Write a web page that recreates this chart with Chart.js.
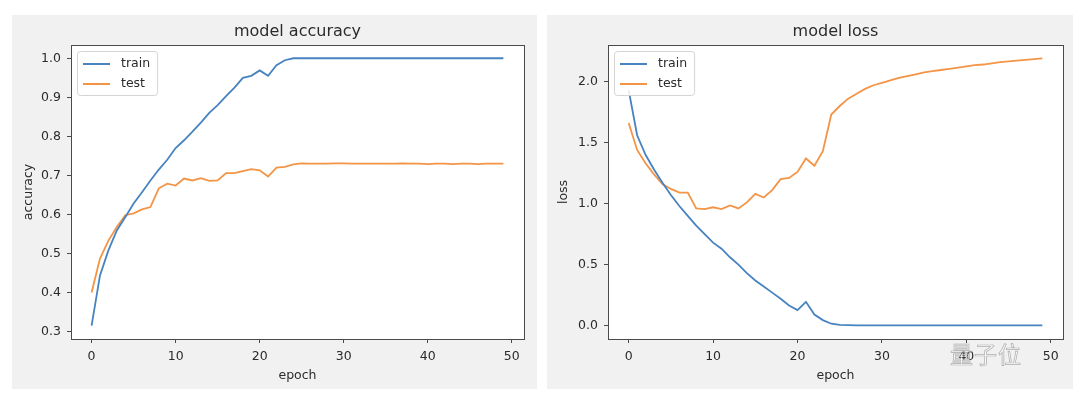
<!DOCTYPE html>
<html>
<head>
<meta charset="utf-8">
<script src="https://cdn.jsdelivr.net/npm/chart.js@4/dist/chart.umd.min.js"></script>
<style>
  body { margin: 0; background: #ffffff; width: 1080px; height: 397px; position: relative; overflow: hidden; }
  .panel { position: absolute; top: 15px; height: 374px; background: #f1f1f1; }
  #left { left: 12px; width: 525px; }
  #right { left: 547px; width: 526px; }
  .mark { position: absolute; left: 950px; top: 336px; font: 23px "Noto Sans CJK SC"; color: rgba(255,255,255,0.55);
          -webkit-text-stroke: 0.7px rgba(110,110,110,0.55); letter-spacing: 1px; }
</style>
</head>
<body>
<div class="panel" id="left"><canvas id="accChart" width="525" height="374"></canvas></div>
<div class="panel" id="right"><canvas id="lossChart" width="526" height="374"></canvas></div>
<div class="mark">量子位</div>
<script>
// values, one per epoch
var epochs = [];
for (var i = 0; i < 50; i++) epochs.push(i);

var accTrain = [0.315, 0.444, 0.508, 0.559, 0.593, 0.628, 0.657, 0.687, 0.715, 0.740,
                0.770, 0.790, 0.812, 0.835, 0.860, 0.880, 0.903, 0.925, 0.950, 0.955,
                0.969, 0.955, 0.982, 0.995, 1.000, 1.000, 1.000, 1.000, 1.000, 1.000,
                1.000, 1.000, 1.000, 1.000, 1.000, 1.000, 1.000, 1.000, 1.000, 1.000,
                1.000, 1.000, 1.000, 1.000, 1.000, 1.000, 1.000, 1.000, 1.000, 1.000];
var accTest = [0.400, 0.487, 0.533, 0.568, 0.598, 0.603, 0.613, 0.619, 0.667, 0.679,
               0.674, 0.692, 0.687, 0.693, 0.686, 0.687, 0.706, 0.706, 0.711, 0.716,
               0.713, 0.697, 0.720, 0.722, 0.728, 0.731, 0.730, 0.730, 0.730, 0.731,
               0.731, 0.730, 0.730, 0.730, 0.730, 0.730, 0.730, 0.731, 0.730, 0.730,
               0.729, 0.730, 0.730, 0.729, 0.730, 0.730, 0.729, 0.730, 0.730, 0.730];
var lossTrain = [1.93, 1.56, 1.40, 1.28, 1.17, 1.07, 0.98, 0.90, 0.82, 0.75,
                 0.68, 0.63, 0.56, 0.50, 0.43, 0.37, 0.32, 0.27, 0.22, 0.165,
                 0.127, 0.195, 0.09, 0.045, 0.015, 0.005, 0.003, 0.002, 0.002, 0.001,
                 0.001, 0.001, 0.001, 0.001, 0.001, 0.001, 0.001, 0.001, 0.001, 0.001,
                 0.001, 0.001, 0.001, 0.001, 0.001, 0.001, 0.001, 0.001, 0.001, 0.001];
var lossTest = [1.66, 1.44, 1.33, 1.24, 1.16, 1.12, 1.09, 1.09, 0.96, 0.955,
                0.97, 0.955, 0.985, 0.96, 1.01, 1.08, 1.05, 1.11, 1.20, 1.21,
                1.26, 1.37, 1.31, 1.43, 1.73, 1.80, 1.86, 1.90, 1.94, 1.97,
                1.99, 2.01, 2.03, 2.045, 2.06, 2.075, 2.085, 2.095, 2.105, 2.115,
                2.125, 2.135, 2.14, 2.15, 2.16, 2.165, 2.172, 2.178, 2.184, 2.19];

var epochTicks = [0, 10, 20, 30, 40, 50];
var accTicks = [0.3, 0.4, 0.5, 0.6, 0.7, 0.8, 0.9, 1.0];
var lossTicks = [0.0, 0.5, 1.0, 1.5, 2.0];

var blue = '#4783c0';
var orange = '#f39446';
var textCol = '#2b2b2b';
var frameCol = '#4a4a4a';
var fontFam = '"DejaVu Sans", sans-serif';

function points(vals) {
    return vals.map(function (v, i) { return { x: epochs[i], y: v }; });
}

// white axes box, frame, title over the plot and matplotlib style legend
var framePlugin = {
    id: 'frame',
    beforeDraw: function (chart) {
        var a = chart.chartArea, ctx = chart.ctx;
        ctx.save();
        ctx.fillStyle = '#ffffff';
        ctx.fillRect(a.left, a.top, a.right - a.left, a.bottom - a.top);
        ctx.restore();
    },
    afterDraw: function (chart) {
        var a = chart.chartArea, ctx = chart.ctx;
        ctx.save();
        ctx.strokeStyle = frameCol;
        ctx.lineWidth = 1;
        ctx.strokeRect(Math.round(a.left) + 0.5, Math.round(a.top) + 0.5,
                       Math.round(a.right - a.left), Math.round(a.bottom - a.top));

        ctx.fillStyle = textCol;
        ctx.font = '16px ' + fontFam;
        ctx.textAlign = 'center';
        ctx.textBaseline = 'middle';
        ctx.fillText(chart.options.plotTitle, (a.left + a.right) / 2, a.top - 13);

        ctx.font = '12.5px ' + fontFam;
        ctx.textAlign = 'left';
        var sets = chart.data.datasets;
        var w = 0;
        sets.forEach(function (d) { w = Math.max(w, ctx.measureText(d.label).width); });
        var bx = a.left + 6, by = a.top + 6, bw = 44 + w + 7, bh = 44;
        ctx.fillStyle = 'rgba(255,255,255,0.85)';
        ctx.strokeStyle = '#d4d4d4';
        ctx.beginPath();
        ctx.roundRect(bx + 0.5, by + 0.5, bw, bh, 3);
        ctx.fill();
        ctx.stroke();
        sets.forEach(function (d, k) {
            var y = by + 13 + k * 20;
            ctx.strokeStyle = d.borderColor;
            ctx.lineWidth = 2;
            ctx.beginPath();
            ctx.moveTo(bx + 6, y);
            ctx.lineTo(bx + 33, y);
            ctx.stroke();
            ctx.fillStyle = textCol;
            ctx.textBaseline = 'middle';
            ctx.fillText(d.label, bx + 44, y);
        });
        ctx.restore();
    }
};

function makeChart(id, title, yTitle, train, test, yMin, yMax, yTicks, yWidth, rightPad) {
    var ctx = document.getElementById(id).getContext('2d');
    return new Chart(ctx, {
        type: 'line',
        data: {
            datasets: [{
                label: 'train',
                data: points(train),
                borderColor: blue,
                borderWidth: 1.8,
                pointRadius: 0,
                tension: 0
            }, {
                label: 'test',
                data: points(test),
                borderColor: orange,
                borderWidth: 1.8,
                pointRadius: 0,
                tension: 0
            }]
        },
        options: {
            responsive: false,
            animation: false,
            plotTitle: title,
            layout: { padding: { left: 0, right: rightPad, top: 30, bottom: 0 } },
            plugins: {
                legend: { display: false },
                tooltip: { enabled: false },
                title: { display: false }
            },
            scales: {
                x: {
                    type: 'linear',
                    min: -2.45,
                    max: 51.45,
                    afterBuildTicks: function (s) { s.ticks = epochTicks.map(function (v) { return { value: v }; }); },
                    afterFit: function (s) { s.height = 50; },
                    ticks: { color: textCol, font: { family: fontFam, size: 12.5 }, padding: 6, maxRotation: 0 },
                    grid: { drawOnChartArea: false, drawTicks: true, tickLength: 4, color: frameCol },
                    border: { display: false },
                    title: { display: true, text: 'epoch', color: textCol, font: { family: fontFam, size: 12.5 },
                             padding: { top: 0, bottom: 6 } }
                },
                y: {
                    min: yMin,
                    max: yMax,
                    afterBuildTicks: function (s) { s.ticks = yTicks.map(function (v) { return { value: v }; }); },
                    afterFit: function (s) { s.width = yWidth; },
                    ticks: { color: textCol, font: { family: fontFam, size: 12.5 }, padding: 6,
                             callback: function (v) { return v.toFixed(1); } },
                    grid: { drawOnChartArea: false, drawTicks: true, tickLength: 4, color: frameCol },
                    border: { display: false },
                    title: { display: true, text: yTitle, color: textCol, font: { family: fontFam, size: 12.5 },
                             padding: { top: 9, bottom: 0 } }
                }
            }
        },
        plugins: [framePlugin]
    });
}

var accChart = makeChart('accChart', 'model accuracy', 'accuracy', accTrain, accTest,
                         0.281, 1.034, accTicks, 59, 13);
var lossChart = makeChart('lossChart', 'model loss', 'loss', lossTrain, lossTest,
                          -0.11, 2.30, lossTicks, 61, 10);
</script>
</body>
</html>
